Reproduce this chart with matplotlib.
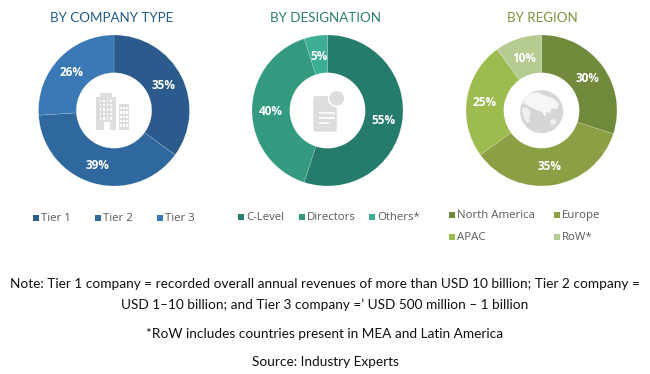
import matplotlib
matplotlib.use("Agg")
import matplotlib.pyplot as plt
from matplotlib.patches import Circle, Rectangle, FancyBboxPatch, Polygon

W, H = 650, 374

# data
company_labels = ["Tier 1", "Tier 2", "Tier 3"]
company_vals = [35, 39, 26]
company_cols = ["#2A5B8C", "#2F689F", "#3A79B6"]

desig_labels = ["C-Level", "Directors", "Others*"]
desig_vals = [55, 40, 5]
desig_cols = ["#267C6C", "#339A80", "#3BAE94"]

region_labels = ["North America", "Europe", "APAC", "RoW*"]
region_vals = [30, 35, 25, 10]
region_cols = ["#71893A", "#8BA045", "#9DBB4F", "#B6CB92"]

titles = ["BY COMPANY TYPE", "BY DESIGNATION", "BY REGION"]
title_cols = ["#1F5A8A", "#2C7F70", "#7A9440"]

notes = ["Note: Tier 1 company = recorded overall annual revenues of more than USD 10 billion; Tier 2 company =",
         "USD 1\u201310 billion; and Tier 3 company =\u2019 USD 500 million \u2013 1 billion",
         "*RoW includes countries present in MEA and Latin America",
         "Source: Industry Experts"]

plt.rcParams["font.family"] = ["Lato", "DejaVu Sans"]

fig = plt.figure(figsize=(W / 100, H / 100), dpi=100, facecolor="white")


def donut(cx, cy, r, vals, cols):
    ax = fig.add_axes([(cx - r) / W, 1 - (cy + r) / H, 2 * r / W, 2 * r / H])
    ax.pie(vals, colors=cols, startangle=90, counterclock=False, radius=1,
           wedgeprops=dict(width=0.5, edgecolor="#FFFFFF80", linewidth=0.2))
    ax.set_xlim(-1, 1)
    ax.set_ylim(-1, 1)
    ax.axis("off")


donut(114, 110.5, 75.5, company_vals, company_cols)
donut(327.5, 110.5, 75.5, desig_vals, desig_cols)
donut(541.5, 110.5, 75.5, region_vals, region_cols)

# overlay in pixel coordinates for text, legends and icons
ov = fig.add_axes([0, 0, 1, 1], facecolor="none")
ov.set_xlim(0, W)
ov.set_ylim(H, 0)
ov.axis("off")

for x, t, c in zip([112, 326, 542], titles, title_cols):
    ov.text(x, 18, t, color=c, fontsize=9.6, ha="center", va="center")

pct_x = [164, 98, 72, 383, 271, 319, 587, 550, 485, 524]
pct_y = [85, 165, 72, 120, 111, 56, 78, 166, 102, 58]
pct_txt = company_vals + desig_vals + region_vals
for x, y, v in zip(pct_x, pct_y, pct_txt):
    ov.text(x, y, f"{v}%", color="white", fontsize=8.5, fontweight="bold",
            ha="center", va="center", family=["Open Sans", "DejaVu Sans"])


def legend_item(x, y, col, label):
    ov.add_patch(Rectangle((x, y - 3), 6, 6, color=col, lw=0))
    ov.text(x + 8, y, label, color="#595959", fontsize=8.2, ha="left", va="center",
            family=["Open Sans", "DejaVu Sans"])


for x, c, l in zip([33, 95, 157], company_cols, company_labels):
    legend_item(x, 218, c, l)
for x, c, l in zip([238, 299, 369], desig_cols, desig_labels):
    legend_item(x, 217, c, l)
for x, y, c, l in zip([449, 554, 449, 554], [215, 215, 237, 237], region_cols, region_labels):
    legend_item(x, y, c, l)

for y, s in zip([284, 305, 334, 362], notes):
    ov.text(325, y, s, color="#111111", fontsize=9.85, ha="center", va="center")

# building icon
GREY = "#DDDDDD"
ov.add_patch(Rectangle((96, 96.7), 20, 33.3, color=GREY, lw=0))
ov.add_patch(Rectangle((100, 93.3), 12, 4, color=GREY, lw=0))
ov.add_patch(Rectangle((118.7, 104), 10.6, 26, color=GREY, lw=0))
for i in range(4):
    for j in range(5):
        ov.add_patch(Rectangle((99.5 + i * 3.5, 99.5 + j * 4.4), 1.8, 2.4, color="white", lw=0))
for i in range(3):
    for j in range(5):
        ov.add_patch(Rectangle((120.3 + i * 2.9, 107 + j * 4.3), 1.6, 2.4, color="white", lw=0))
ov.add_patch(Rectangle((103.7, 122), 6.6, 8, color="white", lw=0))

# document icon
ov.add_patch(FancyBboxPatch((313.3, 96), 23.4, 35.7, boxstyle="round,pad=0,rounding_size=2.5", color=GREY, lw=0))
ov.add_patch(Circle((336.7, 98.3), 9, color="white", lw=0))
ov.add_patch(Circle((336.7, 98.3), 7.3, color=GREY, lw=0))
for y, x1 in zip([113.3, 118.3, 123.3], [335, 335, 329]):
    ov.plot([318.7, x1], [y, y], color="white", lw=1.2, solid_capstyle="butt")

# globe icon
ov.add_patch(Circle((541.7, 111.7), 21.5, color="#D6D6D6", lw=0))
eurasia = [(530, 93.3), (538.3, 92.7), (546.7, 96), (553.3, 98.3), (559.3, 104), (556.7, 109.3),
           (551.7, 108.3), (550, 113.3), (546.7, 111.7), (545, 116.7), (541.7, 111.7),
           (536.7, 110), (533.3, 108.3), (528.3, 106), (525, 103.3), (522.7, 105), (524, 100)]
africa = [(521.7, 108.3), (526.7, 107.3), (530.7, 111.7), (529.3, 116.7), (530, 121.7),
          (526.7, 123.3), (524, 118.3)]
oz = [(550, 120), (556, 119), (556, 124), (551, 125)]
for pts, c in zip([eurasia, africa, oz], ["#F6F6F6", "#EFEFEF", "#EFEFEF"]):
    ov.add_patch(Polygon(pts, color=c, lw=0))

fig.savefig("out.png", dpi=100)
